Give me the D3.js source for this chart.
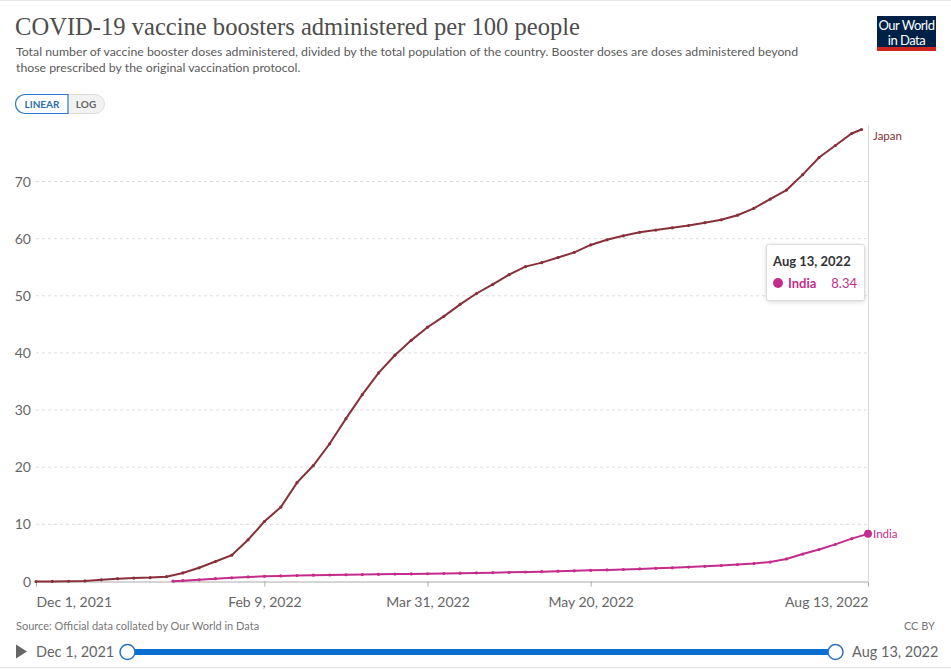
<!DOCTYPE html>
<html>
<head>
<meta charset="utf-8">
<script src="https://cdn.jsdelivr.net/npm/d3@7"></script>
<style>
  html, body { margin: 0; padding: 0; background: #fff; }
  svg { display: block; font-family: Lato, "Open Sans", sans-serif; }
</style>
</head>
<body>
<svg id="chart" width="951" height="669"></svg>
<script>
// ---------- data ----------
const japanDates = ["2021-12-01","2021-12-06","2021-12-11","2021-12-16","2021-12-21","2021-12-26","2021-12-31",
  "2022-01-05","2022-01-10","2022-01-15","2022-01-20","2022-01-25","2022-01-30","2022-02-04","2022-02-09",
  "2022-02-14","2022-02-19","2022-02-24","2022-03-01","2022-03-06","2022-03-11","2022-03-16","2022-03-21",
  "2022-03-26","2022-03-31","2022-04-05","2022-04-10","2022-04-15","2022-04-20","2022-04-25","2022-04-30",
  "2022-05-05","2022-05-10","2022-05-15","2022-05-20","2022-05-25","2022-05-30","2022-06-04","2022-06-09",
  "2022-06-14","2022-06-19","2022-06-24","2022-06-29","2022-07-04","2022-07-09","2022-07-14","2022-07-19",
  "2022-07-24","2022-07-29","2022-08-03","2022-08-08","2022-08-11"];
const japanValues = [0.0,0.02,0.04,0.1,0.3,0.5,0.6,
  0.68,0.85,1.5,2.4,3.5,4.6,7.3,10.5,
  13.0,17.3,20.3,24.1,28.5,32.7,36.5,39.6,
  42.2,44.5,46.4,48.5,50.4,52.0,53.7,55.1,
  55.8,56.7,57.6,58.9,59.8,60.5,61.1,61.5,
  61.9,62.3,62.8,63.3,64.1,65.3,66.9,68.5,
  71.2,74.2,76.3,78.4,79.1];

const indiaDates = ["2022-01-12","2022-01-15","2022-01-20","2022-01-25","2022-01-30","2022-02-04","2022-02-09",
  "2022-02-14","2022-02-19","2022-02-24","2022-03-01","2022-03-06","2022-03-11","2022-03-16","2022-03-21",
  "2022-03-26","2022-03-31","2022-04-05","2022-04-10","2022-04-15","2022-04-20","2022-04-25","2022-04-30",
  "2022-05-05","2022-05-10","2022-05-15","2022-05-20","2022-05-25","2022-05-30","2022-06-04","2022-06-09",
  "2022-06-14","2022-06-19","2022-06-24","2022-06-29","2022-07-04","2022-07-09","2022-07-14","2022-07-19",
  "2022-07-24","2022-07-29","2022-08-03","2022-08-08","2022-08-13"];
const indiaValues = [0.05,0.15,0.3,0.5,0.65,0.8,0.9,
  0.98,1.05,1.1,1.14,1.18,1.22,1.26,1.3,
  1.33,1.36,1.4,1.45,1.5,1.55,1.6,1.66,
  1.72,1.8,1.87,1.95,2.02,2.1,2.2,2.3,
  2.4,2.52,2.65,2.8,2.97,3.15,3.4,3.95,
  4.8,5.6,6.5,7.5,8.34];

const yTicks = [0,10,20,30,40,50,60,70];
const xTickDates = ["2021-12-01","2022-02-09","2022-03-31","2022-05-20","2022-08-13"];
const xTickLabels = ["Dec 1, 2021","Feb 9, 2022","Mar 31, 2022","May 20, 2022","Aug 13, 2022"];
const startLabel = "Dec 1, 2021", endLabel = "Aug 13, 2022";
const tooltipDate = "Aug 13, 2022", tooltipEntity = "India", tooltipValue = "8.34";

// ---------- setup ----------
const parse = d3.utcParse("%Y-%m-%d");
const series = [
  { name: "Japan", color: "#883039", data: japanDates.map((d,i)=>({date: parse(d), value: japanValues[i]})) },
  { name: "India", color: "#c32c8c", data: indiaDates.map((d,i)=>({date: parse(d), value: indiaValues[i]})) }
];

const svg = d3.select("#chart");
const W = 951, H = 669;
const plotL = 36, plotR = 868, plotT = 129.5, plotB = 581.5;

const x = d3.scaleUtc().domain([parse("2021-12-01"), parse("2022-08-13")]).range([plotL, plotR]);
const yMax = d3.max(japanValues);
const y = d3.scaleLinear().domain([0, yMax]).range([plotB, plotT]);

// frame lines
svg.append("line").attr("x1",0).attr("x2",W).attr("y1",0.5).attr("y2",0.5).attr("stroke","#e8e8e8");
svg.append("line").attr("x1",0).attr("x2",W).attr("y1",H-1.5).attr("y2",H-1.5).attr("stroke","#e2e2e2");

// title
svg.append("text").attr("x",15).attr("y",35)
  .attr("font-family","'Liberation Serif', 'DejaVu Serif', serif").attr("font-size",26)
  .attr("textLength",565).attr("lengthAdjust","spacingAndGlyphs")
  .attr("fill","#4e4e4e").text("COVID-19 vaccine boosters administered per 100 people");
const sub = svg.append("text").attr("x",16).attr("font-size",12.3).attr("fill","#5b5b5b");
sub.append("tspan").attr("x",16).attr("y",56).text("Total number of vaccine booster doses administered, divided by the total population of the country. Booster doses are doses administered beyond");
sub.append("tspan").attr("x",16).attr("y",72).text("those prescribed by the original vaccination protocol.");

// logo
const logo = svg.append("g");
logo.append("rect").attr("x",877).attr("y",16).attr("width",59).attr("height",32).attr("fill","#002147");
logo.append("rect").attr("x",877).attr("y",47).attr("width",59).attr("height",4).attr("fill","#ce261e");
logo.append("text").attr("x",906.5).attr("y",30).attr("text-anchor","middle").attr("fill","#fff")
  .attr("font-size",13).attr("letter-spacing",-0.5).text("Our World");
logo.append("text").attr("x",906.5).attr("y",45).attr("text-anchor","middle").attr("fill","#fff")
  .attr("font-size",13).attr("letter-spacing",-0.5).text("in Data");

// linear / log toggle
const tg = svg.append("g");
tg.append("rect").attr("x",15.5).attr("y",94.5).attr("width",89).attr("height",19).attr("rx",9.5)
  .attr("fill","#f2f2f2").attr("stroke","#dcdcdc");
tg.append("path").attr("d","M68,94.5 H25 A9.5,9.5 0 0 0 25,113.5 H68 Z").attr("fill","#fff").attr("stroke","#2d7bc7").attr("stroke-width",1.2);
tg.append("text").attr("x",42).attr("y",107.5).attr("text-anchor","middle").attr("font-size",10)
  .attr("font-weight",700).attr("fill","#2c6fae").text("LINEAR");
tg.append("text").attr("x",86).attr("y",107.5).attr("text-anchor","middle").attr("font-size",10)
  .attr("font-weight",700).attr("fill","#666").text("LOG");

// y grid + labels
const yAxis = svg.append("g");
yTicks.forEach(t => {
  if (t > 0) {
    yAxis.append("line").attr("x1",plotL).attr("x2",plotR).attr("y1",y(t)).attr("y2",y(t))
      .attr("stroke","#dddddd").attr("stroke-dasharray","3,3");
  }
  yAxis.append("text").attr("x",31).attr("y",y(t)+5).attr("text-anchor","end")
    .attr("font-size",14).attr("fill","#666").text(t);
});

// x axis
const xg = svg.append("g").attr("transform",`translate(0,${plotB})`)
  .call(d3.axisBottom(x).tickValues(xTickDates.map(parse)).tickSize(5).tickFormat((d,i)=>xTickLabels[i]));
xg.select(".domain").attr("stroke","#aaa").attr("d",`M${plotL},0.5H${plotR}`);
xg.selectAll(".tick line").attr("stroke","#aaa");
xg.selectAll(".tick text").attr("font-size",14).attr("fill","#666").attr("font-family","Lato, sans-serif").attr("dy","1.25em");
xg.selectAll(".tick text").attr("text-anchor",(d,i)=> i===0 ? "start" : (i===xTickLabels.length-1 ? "end" : "middle"));

// hover line
svg.append("line").attr("x1",plotR+0.5).attr("x2",plotR+0.5).attr("y1",plotT-4).attr("y2",plotB)
  .attr("stroke","#dadada");

// lines
const line = d3.line().x(d=>x(d.date)).y(d=>y(d.value)).curve(d3.curveLinear);
series.forEach(s => {
  const g = svg.append("g");
  g.append("path").datum(s.data).attr("d",line).attr("fill","none")
    .attr("stroke",s.color).attr("stroke-width",2);
  g.selectAll("circle").data(s.data).join("circle")
    .attr("cx",d=>x(d.date)).attr("cy",d=>y(d.value)).attr("r",1.6).attr("fill",s.color);
  const last = s.data[s.data.length-1];
  g.append("text").attr("x",plotR+5).attr("y",Math.max(y(last.value)+4, plotT+10.5)).attr("font-size",11.5)
    .attr("fill",s.color).text(s.name);
});
// highlighted India end point
const indiaLast = series[1].data[series[1].data.length-1];
svg.append("circle").attr("cx",x(indiaLast.date)).attr("cy",y(indiaLast.value)).attr("r",4).attr("fill",series[1].color);

// tooltip
const tt = svg.append("g");
tt.append("rect").attr("x",766.5).attr("y",244.5).attr("width",98).attr("height",56).attr("rx",2)
  .attr("fill","#fff").attr("stroke","#dcdcdc").style("filter","drop-shadow(0 1px 2px rgba(0,0,0,0.15))");
tt.append("text").attr("x",773).attr("y",266).attr("font-size",13).attr("font-weight",700).attr("fill","#333").text(tooltipDate);
tt.append("circle").attr("cx",778).attr("cy",283).attr("r",5).attr("fill",series[1].color);
tt.append("text").attr("x",788).attr("y",288).attr("font-size",13).attr("font-weight",700).attr("fill",series[1].color).text(tooltipEntity);
tt.append("text").attr("x",857).attr("y",288).attr("text-anchor","end").attr("font-size",13).attr("fill",series[1].color).text(tooltipValue);

// footer
svg.append("text").attr("x",16).attr("y",630).attr("font-size",11).attr("fill","#777")
  .text("Source: Official data collated by Our World in Data");
svg.append("text").attr("x",935).attr("y",630).attr("text-anchor","end").attr("font-size",11).attr("fill","#777").text("CC BY");

// timeline
svg.append("path").attr("d","M16,644.5 L27,651.5 L16,658.5 Z").attr("fill","#666");
svg.append("text").attr("x",36).attr("y",657).attr("font-size",14.5).attr("fill","#666").text(startLabel);
svg.append("text").attr("x",852).attr("y",657).attr("font-size",14.5).attr("fill","#666").text(endLabel);
const tl = d3.scaleUtc().domain(x.domain()).range([127.5, 835.5]);
svg.append("line").attr("x1",tl.range()[0]).attr("x2",tl.range()[1]).attr("y1",652).attr("y2",652)
  .attr("stroke","#0a6fd1").attr("stroke-width",6);
tl.domain().forEach(d => {
  svg.append("circle").attr("cx",tl(d)).attr("cy",652).attr("r",7.5).attr("fill","#fff")
    .attr("stroke","#2a73c0").attr("stroke-width",1.5);
});
</script>
</body>
</html>
